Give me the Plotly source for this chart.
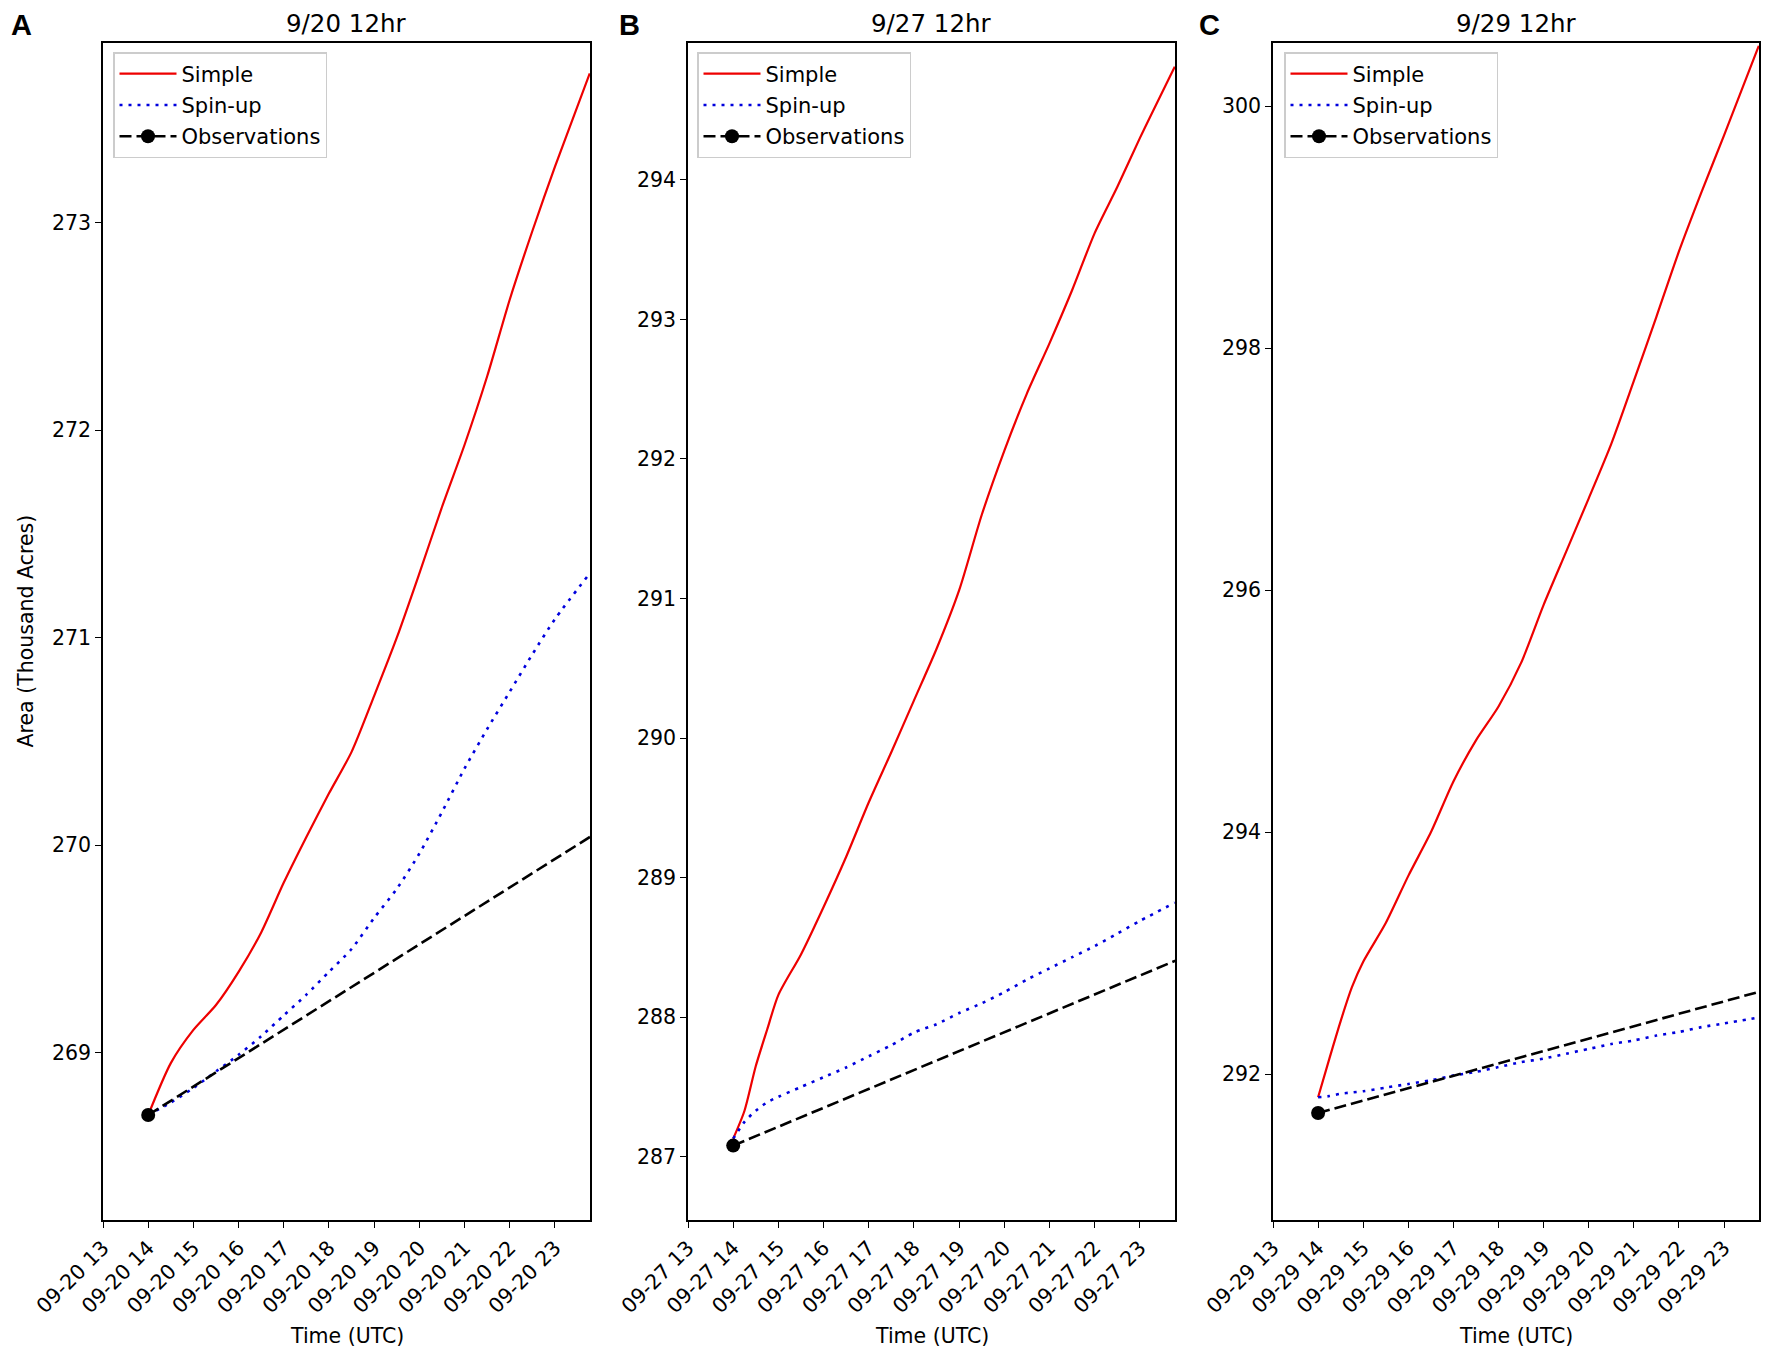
import pandas as pd
import plotly.graph_objects as go
from plotly.subplots import make_subplots

# the page body keeps an 8px margin, so the figure is drawn 16px smaller
PAGE_W, PAGE_H, PAD = 1772, 1357, 8
W, H = PAGE_W - 2 * PAD, PAGE_H - 2 * PAD

# panel metadata
panel_letters = ["A", "B", "C"]
panel_titles = ["9/20 12hr", "9/27 12hr", "9/29 12hr"]
panel_dates = ["2020-09-20", "2020-09-27", "2020-09-29"]

# model output, hours after midnight UTC
hours_a = [14, 14.5, 15, 15.5, 16, 16.5, 17, 17.5, 18, 18.5, 19, 19.5, 20, 20.5, 21, 21.5, 22, 22.5, 23, 23.77]
simple_a = [268.70, 268.95, 269.11, 269.23, 269.39, 269.58, 269.82, 270.04, 270.25, 270.45, 270.72, 271.00,
            271.31, 271.63, 271.93, 272.26, 272.63, 272.96, 273.27, 273.72]
spinup_a = [268.70, 268.76, 268.83, 268.91, 268.99, 269.08, 269.18, 269.28, 269.39, 269.50, 269.65, 269.79,
            269.96, 270.16, 270.37, 270.56, 270.74, 270.92, 271.09, 271.31]

hours_bc = [14, 14.25, 14.5, 14.75, 15, 15.5, 16, 16.5, 17, 17.5, 18, 18.5, 19, 19.5, 20, 20.5, 21, 21.5,
            22, 22.5, 23, 23.77]
simple_b = [287.13, 287.33, 287.65, 287.91, 288.16, 288.45, 288.79, 289.15, 289.54, 289.90, 290.27, 290.64,
            291.06, 291.60, 292.06, 292.47, 292.83, 293.21, 293.62, 293.95, 294.30, 294.81]
spinup_b = [287.13, 287.25, 287.33, 287.39, 287.43, 287.50, 287.57, 287.64, 287.72, 287.80, 287.89, 287.95,
            288.03, 288.10, 288.18, 288.27, 288.35, 288.43, 288.51, 288.60, 288.69, 288.82]

simple_c = [291.81, 292.13, 292.44, 292.72, 292.93, 293.25, 293.64, 294.00, 294.42, 294.76, 295.04, 295.40,
            295.88, 296.32, 296.76, 297.21, 297.73, 298.26, 298.80, 299.29, 299.76, 300.50]
spinup_c = [291.81, 291.82, 291.84, 291.85, 291.86, 291.89, 291.92, 291.95, 291.99, 292.02, 292.06, 292.10,
            292.13, 292.17, 292.21, 292.25, 292.28, 292.32, 292.35, 292.39, 292.42, 292.47]

# observed perimeters (start of run and next day)
obs_hours = [14, 38]
obs_a = [268.70, 271.99]
obs_b = [287.08, 290.33]
obs_c = [291.68, 294.14]

y_ranges = [[268.194, 273.866], [286.547, 294.98], [290.796, 300.523]]
y_dticks = [1, 1, 2]

panels = [
    (hours_a, simple_a, spinup_a, obs_a),
    (hours_bc, simple_b, spinup_b, obs_b),
    (hours_bc, simple_c, spinup_c, obs_c),
]

# pixel boxes of the three axes (page coordinates)
x_px = [(103, 590), (688, 1175), (1273, 1759)]
y_top, y_bot = 43, 1220
legend_px = [113, 697, 1284]
letter_px = [21, 629, 1209]

FONT = "DejaVu Sans"


def px_x(v):
    return (v - PAD) / W


def px_y(v):
    return 1 - (v - PAD) / H


def stamps(day, hours):
    base = pd.Timestamp(day)
    return [base + pd.Timedelta(hours=h) for h in hours]


fig = make_subplots(rows=1, cols=3)

for i, (hrs, simple, spin, obs) in enumerate(panels):
    leg = "legend" if i == 0 else f"legend{i + 1}"
    t = stamps(panel_dates[i], hrs)
    fig.add_trace(go.Scatter(x=t, y=simple, name="Simple", mode="lines", legendgroup=f"s{i}",
                             line=dict(color="#ee0000", width=2.2, shape="spline", smoothing=0.7),
                             legend=leg),
                  row=1, col=i + 1)
    fig.add_trace(go.Scatter(x=t, y=spin, name="Spin-up", mode="lines", legendgroup=f"u{i}",
                             line=dict(color="#0000dd", width=2.6, dash="3px,6px",
                                       shape="spline", smoothing=0.7),
                             legend=leg),
                  row=1, col=i + 1)
    fig.add_trace(go.Scatter(x=stamps(panel_dates[i], obs_hours), y=obs, name="Observations",
                             mode="lines+markers", legendgroup=f"o{i}",
                             line=dict(color="black", width=2.6, dash="12px,5px"),
                             marker=dict(color="black", size=14), legend=leg),
                  row=1, col=i + 1)

axis_common = dict(showline=True, linecolor="black", linewidth=1.6, mirror=True,
                   ticks="outside", ticklen=6, tickwidth=1.4, tickcolor="black",
                   showgrid=False, zeroline=False, automargin=False,
                   tickfont=dict(family=FONT, size=20.5, color="black"))

layout = dict(width=W, height=H, margin=dict(l=0, r=0, t=0, b=0, autoexpand=False),
              paper_bgcolor="white", plot_bgcolor="white",
              font=dict(family=FONT, size=20, color="black"))

annotations = []
for i in range(3):
    sfx = "" if i == 0 else str(i + 1)
    x0, x1 = x_px[i]
    day = pd.Timestamp(panel_dates[i])
    layout["xaxis" + sfx] = dict(
        axis_common, type="date", domain=[px_x(x0), px_x(x1)],
        range=[day + pd.Timedelta(hours=13), day + pd.Timedelta(hours=23.775)],
        tick0=day + pd.Timedelta(hours=13), dtick=3600000,
        tickformat="%m-%d %H", tickangle=-45)
    layout["yaxis" + sfx] = dict(
        axis_common, domain=[px_y(y_bot), px_y(y_top)],
        range=y_ranges[i], dtick=y_dticks[i], tick0=0)
    layout["legend" + sfx] = dict(
        x=px_x(legend_px[i]), y=px_y(52), xanchor="left", yanchor="top",
        bgcolor="rgba(255,255,255,0.8)", bordercolor="#cccccc", borderwidth=1.5,
        traceorder="grouped", tracegroupgap=1, itemwidth=57,
        font=dict(family=FONT, size=21, color="black"))
    cx = px_x((x0 + x1) / 2)
    annotations.append(dict(text=panel_titles[i], x=cx, y=1, xref="paper", yref="paper",
                            showarrow=False, xanchor="center", yanchor="top", borderpad=0,
                            font=dict(family=FONT, size=24.5, color="black")))
    annotations.append(dict(text="Time (UTC)", x=cx, y=px_y(1336), xref="paper", yref="paper",
                            showarrow=False, xanchor="center", yanchor="middle",
                            font=dict(family=FONT, size=20.5, color="black")))
    annotations.append(dict(text="<b>" + panel_letters[i] + "</b>", x=px_x(letter_px[i]), y=1,
                            xref="paper", yref="paper", showarrow=False, borderpad=0,
                            xanchor="center", yanchor="top",
                            font=dict(family="Liberation Sans", size=29, color="black")))

annotations.append(dict(text="Area (Thousand Acres)", x=px_x(25), y=px_y(631.5), xref="paper", yref="paper",
                        showarrow=False, textangle=-90, xanchor="center", yanchor="middle",
                        font=dict(family=FONT, size=20.5, color="black")))
layout["annotations"] = annotations

fig.update_layout(layout)
fig.write_html("out.html")
